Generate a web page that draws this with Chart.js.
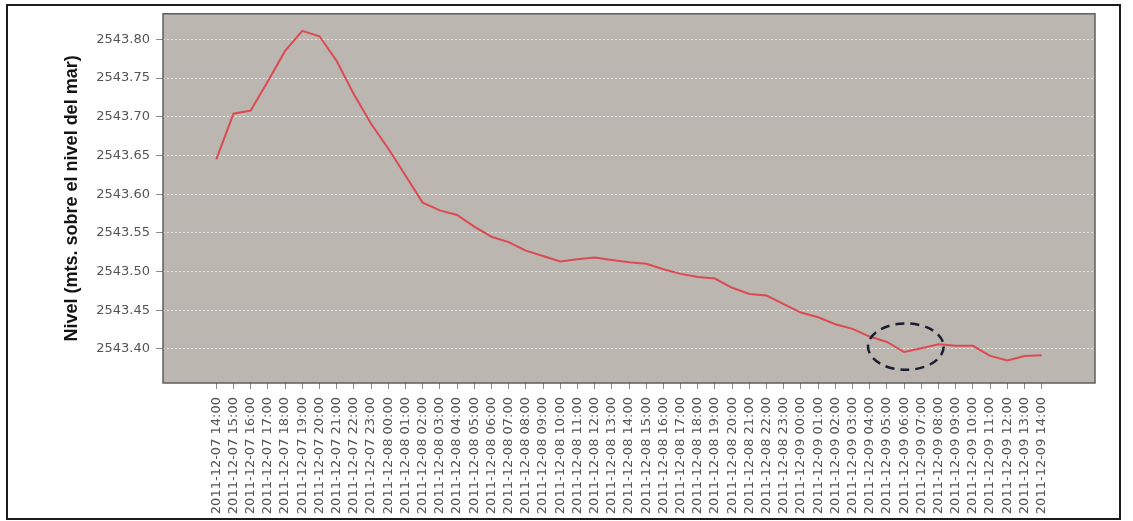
<!DOCTYPE html>
<html>
<head>
<meta charset="utf-8">
<script src="https://cdn.jsdelivr.net/npm/chart.js@4"></script>
<style>
  html, body { margin: 0; padding: 0; background: #ffffff; }
  #wrap { position: relative; width: 1133px; height: 521px; }
  #levelChart { position: absolute; left: 0; top: 0; }
  #frame {
    position: absolute; left: 6px; top: 4px; width: 1115px; height: 516px;
    border: 2px solid #1c1c1c; box-sizing: border-box; pointer-events: none;
  }
</style>
</head>
<body>
<div id="wrap">
  <canvas id="levelChart" width="1133" height="521"></canvas>
  <div id="frame"></div>
</div>
<script>
// hourly readings, 2011-12-07 14:00 .. 2011-12-09 14:00
const timeLabels = [
  '2011-12-07 14:00', '2011-12-07 15:00', '2011-12-07 16:00', '2011-12-07 17:00',
  '2011-12-07 18:00', '2011-12-07 19:00', '2011-12-07 20:00', '2011-12-07 21:00',
  '2011-12-07 22:00', '2011-12-07 23:00', '2011-12-08 00:00', '2011-12-08 01:00',
  '2011-12-08 02:00', '2011-12-08 03:00', '2011-12-08 04:00', '2011-12-08 05:00',
  '2011-12-08 06:00', '2011-12-08 07:00', '2011-12-08 08:00', '2011-12-08 09:00',
  '2011-12-08 10:00', '2011-12-08 11:00', '2011-12-08 12:00', '2011-12-08 13:00',
  '2011-12-08 14:00', '2011-12-08 15:00', '2011-12-08 16:00', '2011-12-08 17:00',
  '2011-12-08 18:00', '2011-12-08 19:00', '2011-12-08 20:00', '2011-12-08 21:00',
  '2011-12-08 22:00', '2011-12-08 23:00', '2011-12-09 00:00', '2011-12-09 01:00',
  '2011-12-09 02:00', '2011-12-09 03:00', '2011-12-09 04:00', '2011-12-09 05:00',
  '2011-12-09 06:00', '2011-12-09 07:00', '2011-12-09 08:00', '2011-12-09 09:00',
  '2011-12-09 10:00', '2011-12-09 11:00', '2011-12-09 12:00', '2011-12-09 13:00',
  '2011-12-09 14:00'
];

const levels = [
  2543.645, 2543.704, 2543.708, 2543.746, 2543.785, 2543.811, 2543.804, 2543.772, 2543.729, 2543.691,
  2543.659, 2543.624, 2543.589, 2543.579, 2543.573, 2543.558, 2543.545, 2543.538, 2543.527, 2543.520,
  2543.513, 2543.516, 2543.518, 2543.515, 2543.512, 2543.510, 2543.503, 2543.497, 2543.493, 2543.491,
  2543.479, 2543.471, 2543.469, 2543.458, 2543.447, 2543.441, 2543.432, 2543.426, 2543.416, 2543.409,
  2543.396, 2543.401, 2543.406, 2543.404, 2543.404, 2543.391, 2543.385, 2543.391, 2543.392
];

const yTicks = [2543.40, 2543.45, 2543.50, 2543.55, 2543.60, 2543.65, 2543.70, 2543.75, 2543.80];

// the dashed ring drawn by hand around the 06:00 dip (index / value units)
const dipMark = { index: 40.1, value: 2543.403, halfIndex: 2.2, halfValue: 0.030 };

const plotLook = {
    id: 'plotLook',
    beforeDraw(chart) {
        const { ctx, chartArea: a } = chart;
        ctx.save();
        ctx.fillStyle = '#bbb7b0';
        ctx.fillRect(a.left, a.top, a.right - a.left, a.bottom - a.top);
        ctx.restore();
    },
    afterDraw(chart) {
        const { ctx, chartArea: a, scales } = chart;
        ctx.save();
        ctx.strokeStyle = '#5e5e5e';
        ctx.lineWidth = 1.5;
        ctx.strokeRect(a.left, a.top, a.right - a.left, a.bottom - a.top);

        const cx = scales.x.getPixelForValue(dipMark.index);
        const cy = scales.y.getPixelForValue(dipMark.value);
        const rx = scales.x.getPixelForValue(dipMark.index + dipMark.halfIndex) - cx;
        const ry = cy - scales.y.getPixelForValue(dipMark.value + dipMark.halfValue);
        ctx.strokeStyle = '#1b1d33';
        ctx.lineWidth = 2.5;
        ctx.setLineDash([9, 6]);
        ctx.beginPath();
        ctx.ellipse(cx, cy, rx, ry, 0, 0, Math.PI * 2);
        ctx.stroke();
        ctx.restore();
    }
};

const ctx = document.getElementById('levelChart');
new Chart(ctx, {
    type: 'line',
    data: {
        datasets: [{
            label: 'Nivel',
            data: levels.map((v, i) => ({ x: i, y: v })),
            borderColor: '#dc4a52',
            borderWidth: 2,
            pointRadius: 0,
            tension: 0,
            fill: false
        }]
    },
    options: {
        responsive: false,
        animation: false,
        layout: { padding: { left: 0, right: 38, top: 12, bottom: 0 } },
        plugins: {
            legend: { display: false },
            tooltip: { enabled: false }
        },
        scales: {
            x: {
                type: 'linear',
                min: -3.1,
                max: 51.1,
                afterBuildTicks: (scale) => {
                    scale.ticks = timeLabels.map((_, i) => ({ value: i }));
                },
                afterFit: (scale) => { scale.height = 138; },
                grid: {
                    drawOnChartArea: false,
                    drawTicks: true,
                    tickLength: 6,
                    tickColor: '#8a8a8a'
                },
                border: { display: false },
                ticks: {
                    autoSkip: false,
                    maxRotation: 90,
                    minRotation: 90,
                    padding: 8,
                    color: '#555555',
                    font: { family: 'DejaVu Sans', size: 13 },
                    callback: (v) => timeLabels[v] ?? ''
                }
            },
            y: {
                min: 2543.356,
                max: 2543.833,
                afterBuildTicks: (scale) => {
                    scale.ticks = yTicks.map(v => ({ value: v }));
                },
                afterFit: (scale) => { scale.width = 163; },
                grid: {
                    color: 'rgba(255, 255, 255, 0.6)',
                    lineWidth: 1,
                    drawTicks: true,
                    tickLength: 7,
                    tickColor: '#8a8a8a',
                    tickBorderDash: []
                },
                border: { display: false, dash: [2, 2] },
                ticks: {
                    padding: 6,
                    color: '#555555',
                    font: { family: 'DejaVu Sans', size: 13 },
                    callback: (v) => Number(v).toFixed(2)
                },
                title: {
                    display: true,
                    text: 'Nivel (mts. sobre el nivel del mar)',
                    color: '#141414',
                    font: { family: 'Liberation Sans', size: 18, weight: 'bold' },
                    padding: { top: 61, bottom: 0 }
                }
            }
        }
    },
    plugins: [plotLook]
});
</script>
</body>
</html>
